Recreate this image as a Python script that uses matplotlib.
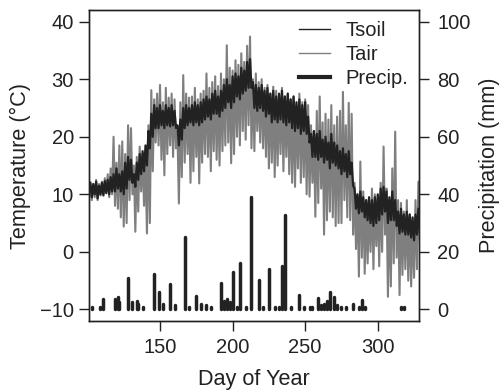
import matplotlib
matplotlib.use("Agg")
import matplotlib.pyplot as plt
from matplotlib.lines import Line2D
import numpy as np

plt.rcParams['font.family'] = ['Liberation Sans', 'DejaVu Sans']

# 2-day steps, each step drawn as a max then a min
days = np.arange(102, 329, 2)

tair_max = [12.0, 11.5, 12.5, 11.8, 12.2, 12.8, 13.5, 14.5, 20.0, 15.5,
            18.5, 19.2, 17.0, 22.0, 21.5, 15.0, 16.5, 18.3, 17.0, 16.0,
            22.0, 28.1, 26.5, 27.5, 29.0, 26.0, 28.5, 26.8, 27.5, 26.5,
            21.0, 26.0, 30.7, 27.5, 26.8, 27.0, 28.5, 26.5, 27.5, 28.0,
            31.0, 28.5, 29.5, 30.5, 28.8, 31.0, 30.0, 35.9, 32.0, 31.5,
            33.3, 32.5, 34.5, 33.0, 35.8, 37.4, 30.0, 31.0, 29.5, 30.0,
            28.5, 29.0, 27.5, 28.7, 28.0, 27.0, 28.5, 27.0, 27.5, 26.5,
            27.0, 25.5, 27.5, 26.0, 26.5, 25.5, 22.0, 21.0, 24.5, 27.0,
            22.5, 24.0, 23.0, 25.5, 22.0, 23.5, 24.5, 27.8, 22.0, 25.9,
            24.0, 12.0, 10.0, 15.7, 10.5, 9.0, 8.5, 11.0, 10.0, 9.5,
            12.0, 18.3, 11.0, 9.0, 14.5, 20.9, 9.0, 8.5, 7.0, 9.0,
            6.5, 5.0, 9.0, 12.2]
tair_min = [9.0, 9.5, 9.0, 9.8, 10.0, 10.5, 9.5, 10.0, 8.0, 7.5,
            6.0, 4.4, 5.0, 9.0, 10.0, 3.5, 7.0, 10.5, 8.0, 3.2,
            5.0, 14.0, 19.0, 18.5, 16.0, 13.3, 17.0, 18.5, 16.5, 18.0,
            8.4, 13.0, 15.5, 17.0, 12.0, 14.0, 16.5, 11.9, 15.5, 17.0,
            16.5, 14.0, 17.5, 16.0, 15.0, 17.5, 18.5, 19.0, 15.4, 17.0,
            20.0, 18.5, 21.0, 19.5, 22.0, 18.0, 17.5, 21.0, 19.0, 18.0,
            16.5, 14.5, 15.5, 13.0, 15.0, 17.0, 14.0, 16.5, 13.5, 12.0,
            11.3, 14.5, 12.0, 13.0, 10.0, 9.6, 12.0, 6.1, 8.5, 11.0,
            3.0, 5.5, 7.0, 6.0, 4.5, 5.0, 5.0, 9.0, 6.0, 5.5,
            3.0, 0.5, -4.3, -1.0, -3.8, -2.0, 0.0, -3.0, 1.0, -2.5,
            0.0, 3.0, -7.8, -6.0, -2.0, -1.0, -7.5, -4.0, -3.0, -5.0,
            -6.0, -4.5, -3.0, 2.0]

tsoil_max = [12.0, 11.8, 12.2, 11.5, 12.0, 12.3, 12.5, 13.0, 13.5, 14.5,
             13.5, 14.0, 15.5, 16.5, 16.0, 13.5, 15.5, 17.0, 17.5, 18.5,
             21.0, 24.0, 25.5, 25.0, 25.5, 24.5, 25.5, 25.0, 25.5, 24.5,
             22.0, 23.0, 25.0, 25.5, 25.0, 25.5, 26.0, 25.5, 26.0, 26.5,
             27.0, 26.5, 27.5, 28.0, 27.0, 28.0, 29.0, 30.0, 29.0, 30.5,
             31.0, 30.5, 32.0, 31.5, 33.0, 33.5, 29.5, 29.0, 28.5, 29.0,
             28.0, 28.5, 27.5, 28.0, 27.0, 27.5, 28.0, 27.0, 27.5, 26.5,
             27.0, 26.0, 26.5, 25.5, 26.0, 23.5, 20.5, 21.0, 20.5, 21.0,
             19.5, 20.0, 19.0, 20.5, 19.0, 18.5, 17.5, 18.0, 17.0, 17.5,
             15.5, 11.0, 10.0, 10.5, 9.5, 9.0, 9.5, 9.0, 9.5, 10.0,
             11.0, 11.3, 10.5, 9.5, 10.5, 9.0, 7.0, 7.5, 6.5, 7.0,
             6.5, 6.0, 6.5, 7.5]
tsoil_min = [9.5, 10.0, 9.3, 10.0, 9.8, 10.2, 10.0, 10.5, 10.5, 11.0,
             10.5, 10.0, 11.0, 12.5, 12.0, 11.3, 12.5, 13.5, 14.0, 15.0,
             18.0, 20.0, 21.5, 21.5, 22.0, 21.5, 22.0, 21.8, 22.0, 21.5,
             18.5, 19.5, 21.5, 22.0, 22.5, 22.0, 22.5, 22.0, 22.5, 23.0,
             23.5, 23.0, 24.0, 24.0, 23.5, 24.5, 25.0, 26.0, 25.0, 26.0,
             27.0, 26.5, 27.5, 28.0, 28.5, 28.5, 25.0, 24.5, 25.0, 24.5,
             23.5, 24.0, 22.5, 23.0, 22.5, 23.0, 22.5, 22.0, 22.5, 21.5,
             21.0, 21.5, 20.5, 21.0, 20.5, 19.0, 16.5, 16.5, 16.0, 16.5,
             15.5, 16.0, 14.5, 15.5, 15.0, 14.5, 13.5, 14.0, 13.0, 13.5,
             11.5, 7.5, 6.7, 7.0, 6.0, 5.5, 5.0, 4.5, 5.0, 5.5,
             6.5, 7.0, 5.0, 5.5, 5.5, 4.5, 3.2, 3.5, 3.0, 3.0,
             2.5, 2.0, 3.0, 3.5]

precip_day = [103, 109, 111, 119, 121, 122, 128, 131, 134, 135, 138,
              146, 149, 152, 157, 160, 167, 170, 175, 178, 182, 185,
              192, 194, 196, 198, 200, 203, 205, 209, 213, 218, 221,
              225, 229, 232, 234, 236, 240, 246, 249, 253, 255, 259,
              261, 263, 265, 267, 270, 272, 275, 278, 283, 287, 289,
              291, 297, 300, 308, 312, 316, 318, 322, 324]
precip_mm = [0.8, 1.0, 3.7, 3.5, 4.2, 2.5, 11.0, 2.5, 3.0, 2.0, 1.0,
             12.3, 6.1, 2.0, 8.7, 1.5, 25.3, 1.0, 4.6, 2.0, 1.5, 1.0,
             9.3, 3.0, 3.5, 2.5, 13.1, 1.0, 16.0, 1.0, 39.2, 10.2, 1.0,
             13.9, 1.0, 1.0, 15.2, 32.8, 1.0, 5.0, 1.0, 1.0, 1.0, 4.0,
             1.5, 2.0, 3.0, 6.1, 4.4, 1.5, 1.0, 1.0, 2.0, 1.0, 3.2,
             1.0, 0.3, 0.3, 0.3, 0.3, 0.8, 0.8, 0.3, 0.3]

dark = '#222222'
grey = '#7f7f7f'

def zigzag(hi, lo):
    x = np.column_stack([days, days + 1]).ravel()
    y = np.column_stack([hi, lo]).ravel()
    return x, y

fig = plt.figure(figsize=(5.03, 3.9), dpi=100)
ax = fig.add_axes([0.177, 0.177, 0.656, 0.797])
ax2 = ax.twinx()

xa, ya = zigzag(tair_max, tair_min)
xs, ys = zigzag(tsoil_max, tsoil_min)
ax.plot(xa, ya, color=grey, lw=1.5)
ax.plot(xs, ys, color=dark, lw=1.6)

bars = ax2.vlines(precip_day, 0, precip_mm, color=dark, lw=2.5)
bars.set_capstyle('round')

ax.set_xlim(101.1, 328.4)
ax.set_ylim(-12, 42)
ax2.set_ylim(-4, 104)
ax.set_xticks([150, 200, 250, 300])
ax.set_yticks([-10, 0, 10, 20, 30, 40])
ax2.set_yticks([0, 20, 40, 60, 80, 100])

for a in (ax, ax2):
    a.tick_params(direction='out', length=7, width=1, color=dark,
                  labelsize=14.5, labelcolor=dark)
    for s in a.spines.values():
        s.set_linewidth(1.0)
        s.set_color(dark)
ax.tick_params(axis='y', pad=4)
ax.tick_params(axis='x', pad=5)
ax2.tick_params(axis='y', pad=6)

ax.set_xlabel('Day of Year', fontsize=15.6, color=dark, labelpad=9)
ax.set_ylabel('Temperature (°C)', fontsize=15.6, color=dark, labelpad=6)
ax2.set_ylabel('Precipitation (mm)', fontsize=15.6, color=dark,
               rotation=90, labelpad=6)

handles = [Line2D([], [], color=dark, lw=1.0),
           Line2D([], [], color=grey, lw=1.0),
           Line2D([], [], color=dark, lw=3.0)]
ax2.legend(handles, ['Tsoil', 'Tair', 'Precip.'], loc='upper right',
           frameon=False, fontsize=14.5, handlelength=1.55, handletextpad=0.75,
           labelspacing=0.25, borderaxespad=0.15, labelcolor=dark)

fig.savefig('out.png', dpi=100)
